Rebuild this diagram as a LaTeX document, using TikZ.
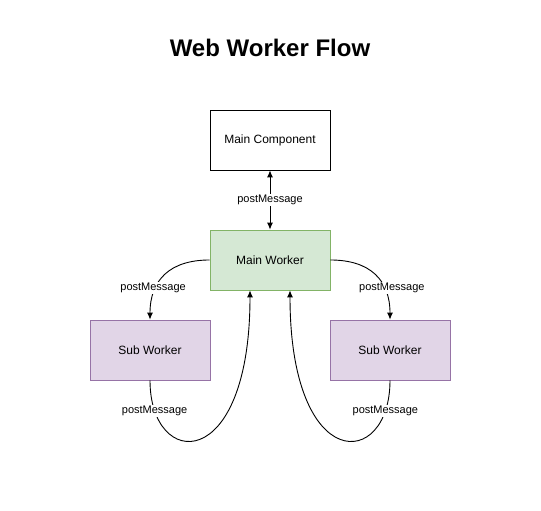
\documentclass[tikz,border=0pt]{standalone}
\usepackage{fontspec}
\setmainfont{Liberation Sans}
\usetikzlibrary{arrows.meta}
\definecolor{workergreen}{HTML}{D5E8D4}
\definecolor{workergreenline}{HTML}{82B366}
\definecolor{subpurple}{HTML}{E1D5E7}
\definecolor{subpurpleline}{HTML}{9673A6}
\begin{document}
\begin{tikzpicture}[
        x=1pt, y=1pt,
        box/.style={rectangle, draw, line width=0.8pt, minimum width=120pt, minimum height=60pt, font=\fontsize{12}{14}\selectfont},
        mainbox/.style={box, fill=white, draw=black},
        workerbox/.style={box, fill=workergreen, draw=workergreenline},
        subbox/.style={box, fill=subpurple, draw=subpurpleline},
        msg/.style={-{Latex[length=7pt,width=6pt]}, line width=0.9pt, black},
        bimsg/.style={{Latex[length=7pt,width=6pt]}-{Latex[length=7pt,width=6pt]}, line width=0.9pt, black},
        lbl/.style={fill=white, inner sep=1pt, font=\fontsize{11}{13}\selectfont}
    ]
        \useasboundingbox (0,0) rectangle (541,511);

        % Title
        \node[font=\fontsize{24}{28}\selectfont\bfseries] (title) at (270,463) {Web Worker Flow};

        % Boxes
        \node[mainbox] (mc) at (270,371) {Main Component};
        \node[workerbox] (mw) at (270,251) {Main Worker};
        \node[subbox] (swl) at (150,161) {Sub Worker};
        \node[subbox] (swr) at (390,161) {Sub Worker};

        % Main component <-> main worker
        \draw[bimsg] (mc) -- node[lbl] {postMessage} (mw);

        % Main worker -> sub workers
        \draw[msg] (mw.west) to[out=180, in=90, looseness=1.2] node[lbl, pos=0.68, xshift=-3pt] {postMessage} (swl.north);
        \draw[msg] (mw.east) to[out=0, in=90, looseness=1.2] node[lbl, pos=0.68, xshift=8pt] {postMessage} (swr.north);

        % Sub workers -> main worker
        \draw[msg] (swl.south) .. controls +(0,-90) and +(0,-185) .. node[lbl, pos=0.13] {postMessage} ([xshift=-20pt]mw.south);
        \draw[msg] (swr.south) .. controls +(0,-90) and +(0,-185) .. node[lbl, pos=0.13] {postMessage} ([xshift=20pt]mw.south);
    \end{tikzpicture}
\end{document}
